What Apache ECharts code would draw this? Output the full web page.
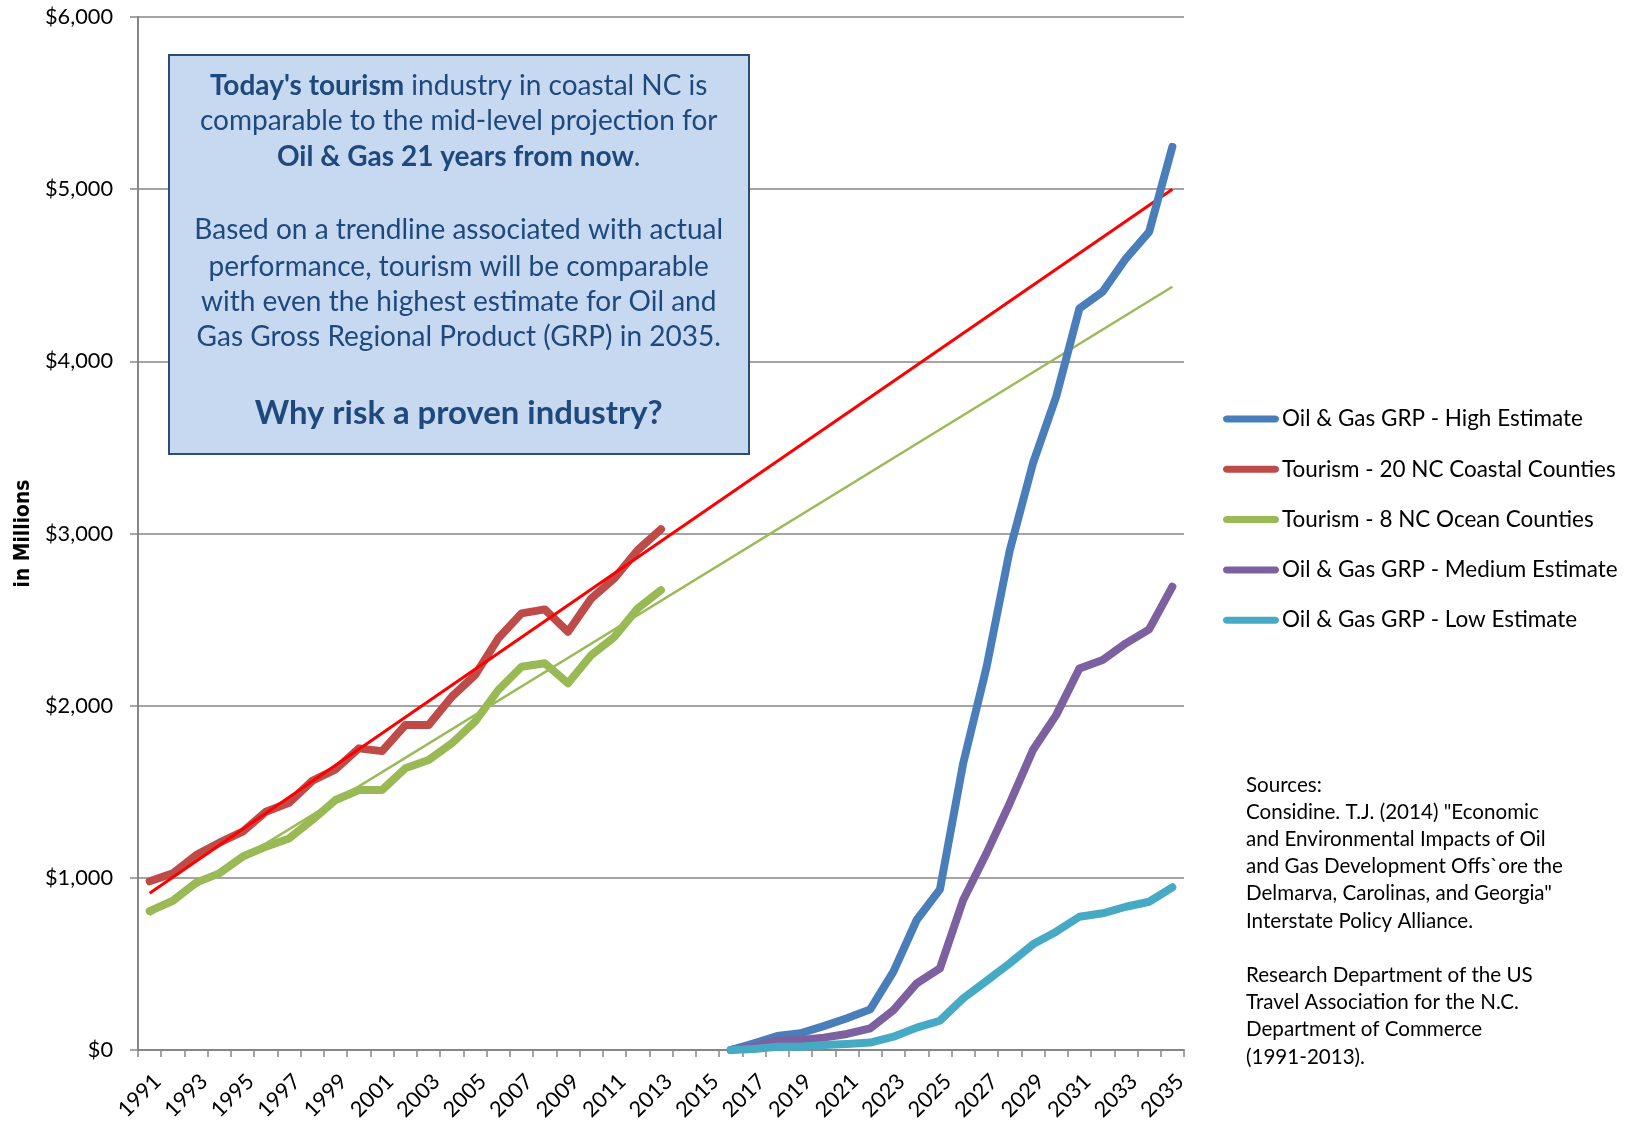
<!DOCTYPE html>
<html>
<head>
<meta charset="utf-8">
<script src="https://cdn.jsdelivr.net/npm/echarts@6/dist/echarts.min.js"></script>
<style>
html,body{margin:0;padding:0;background:#ffffff;}
#chart{width:1627px;height:1125px;}
</style>
</head>
<body>
<div id="chart"></div>
<script>
// ---------------- data ----------------
const years = ['1991','1992','1993','1994','1995','1996','1997','1998','1999','2000',
  '2001','2002','2003','2004','2005','2006','2007','2008','2009','2010',
  '2011','2012','2013','2014','2015','2016','2017','2018','2019','2020',
  '2021','2022','2023','2024','2025','2026','2027','2028','2029','2030',
  '2031','2032','2033','2034','2035'];

const tourismYears = ['1991','1992','1993','1994','1995','1996','1997','1998','1999','2000',
  '2001','2002','2003','2004','2005','2006','2007','2008','2009','2010','2011','2012','2013'];
const tourismCoastal = [980,1026,1132,1204,1268,1384,1436,1564,1630,1752,
  1736,1887,1887,2052,2178,2391,2536,2559,2429,2623,2740,2904,3025];
const tourismOcean = [807,867,972,1026,1123,1181,1229,1336,1452,1510,
  1510,1636,1684,1781,1907,2091,2226,2246,2130,2294,2400,2565,2671];

const oilYears = ['2016','2017','2018','2019','2020','2021','2022','2023','2024','2025',
  '2026','2027','2028','2029','2030','2031','2032','2033','2034','2035'];
const oilHigh = [0,39,81,97,139,184,236,455,755,933,1665,2220,2900,3407,3794,4307,4404,4597,4752,5246];
const oilMedium = [0,19,54,58,72,93,126,232,387,474,871,1142,1432,1742,1945,2216,2265,2362,2443,2691];
const oilLow = [0,6,19,19,29,35,43,77,130,170,300,401,503,614,687,774,794,832,861,945];

// trendline end points [year, value]
const coastalTrend = [['1991', 910], ['2035', 5000]];
const oceanTrend = [['1991', 785], ['2035', 4433]];

const yTicks = [0, 1000, 2000, 3000, 4000, 5000, 6000];

const seriesNames = {
  high: 'Oil & Gas GRP - High Estimate',
  coastal: 'Tourism - 20 NC Coastal Counties',
  ocean: 'Tourism - 8 NC Ocean Counties',
  medium: 'Oil & Gas GRP - Medium Estimate',
  low: 'Oil & Gas GRP - Low Estimate'
};
const legendOrder = [seriesNames.high, seriesNames.coastal, seriesNames.ocean, seriesNames.medium, seriesNames.low];

const boxLines = [
  [["b", "Today's tourism"], ["n", " industry in coastal NC is"]],
  [["n", "comparable to the mid-level projection for"]],
  [["b", "Oil & Gas 21 years from now"], ["n", "."]],
  [["n", "Based on a trendline associated with actual"]],
  [["n", "performance, tourism will be comparable"]],
  [["n", "with even the highest estimate for Oil and"]],
  [["n", "Gas Gross Regional Product (GRP) in 2035."]],
  [["big", "Why risk a proven industry?"]]
];
const boxLineY = [86, 121, 156.5, 230, 266.5, 302, 337, 413];

const sourcesLines = [
  'Sources:',
  'Considine. T.J. (2014) "Economic',
  'and Environmental Impacts of Oil',
  'and Gas Development Offs`ore the',
  'Delmarva, Carolinas, and Georgia"',
  'Interstate Policy Alliance.',
  '',
  'Research Department of the US',
  'Travel Association for the N.C.',
  'Department of Commerce',
  '(1991-2013).'
];

// ---------------- helpers ----------------
const FAMILY = 'Lato, "Open Sans", sans-serif';
const ctx = document.createElement('canvas').getContext('2d');
function fitSize(text, weight, family, target) {
  ctx.font = weight + ' 100px ' + family;
  return +(100 * target / ctx.measureText(text).width).toFixed(2);
}
const axisSize = fitSize('$6,000', 'normal', FAMILY, 68);
const boxSize = fitSize('Based on a trendline associated with actual', 'normal', FAMILY, 529);
const bigSize = fitSize('Why risk a proven industry?', 'bold', FAMILY, 408);
const legendSize = fitSize('Oil & Gas GRP - High Estimate', 'normal', FAMILY, 301);
const srcSize = fitSize('and Gas Development Offs`ore the', 'normal', FAMILY, 317);
const NAME_FAMILY = '"Liberation Sans Narrow", "DejaVu Sans Condensed", sans-serif';
const nameSize = fitSize('in Millions', 'bold', NAME_FAMILY, 108);

const pairs = (xs, vs) => xs.map((x, i) => [x, vs[i]]);

const BOX_TEXT = '#1F497D';
const boxGraphics = boxLines.map((parts, i) => ({
  type: 'text',
  x: 458.7,
  y: boxLineY[i],
  z: 110,
  style: {
    text: parts.map(p => '{' + p[0] + '|' + p[1] + '}').join(''),
    align: 'center',
    verticalAlign: 'middle',
    fontFamily: FAMILY,
    fontSize: boxSize,
    fill: BOX_TEXT,
    rich: {
      b: { fontFamily: FAMILY, fontSize: boxSize, fontWeight: 'bold', fill: BOX_TEXT, align: 'center' },
      n: { fontFamily: FAMILY, fontSize: boxSize, fontWeight: 'normal', fill: BOX_TEXT, align: 'center' },
      big: { fontFamily: FAMILY, fontSize: bigSize, fontWeight: 'bold', fill: BOX_TEXT, align: 'center' }
    }
  }
}));

const chart = echarts.init(document.getElementById('chart'), null, { renderer: 'canvas' });

const lineBase = (name, color, data) => ({
  name: name,
  type: 'line',
  data: data,
  color: color,
  symbol: 'none',
  showSymbol: false,
  smooth: false,
  lineStyle: { width: 8, color: color, cap: 'round', join: 'round' },
  emphasis: { disabled: true }
});

// capsule-shaped legend marker (56 x 7)
const CAPSULE = 'path://M3.5,0 L52.5,0 L54.25,0.47 L55.53,1.75 L56,3.5 L55.53,5.25 L54.25,6.53 L52.5,7 ' +
  'L3.5,7 L1.75,6.53 L0.47,5.25 L0,3.5 L0.47,1.75 L1.75,0.47 Z';

const option = {
  animation: false,
  backgroundColor: '#ffffff',
  textStyle: { fontFamily: FAMILY },
  grid: { left: 138, right: 443, top: 17, bottom: 75, containLabel: false },
  legend: {
    data: legendOrder,
    orient: 'vertical',
    left: 1223,
    top: 407,
    padding: 0,
    itemWidth: 56,
    itemHeight: 7,
    itemGap: 26.3,
    icon: CAPSULE,
    selectedMode: false,
    textStyle: { fontFamily: FAMILY, fontSize: legendSize, color: '#000', lineHeight: 24, padding: [0, 0, 0, -2] }
  },
  xAxis: {
    type: 'category',
    data: years,
    boundaryGap: true,
    axisLine: { show: true, lineStyle: { color: '#868686', width: 2 } },
    axisTick: { show: true, interval: 0, length: 7, alignWithLabel: false, lineStyle: { color: '#868686', width: 1.5 } },
    axisLabel: {
      interval: 1, rotate: 45, margin: 20, verticalAlign: 'top',
      fontFamily: FAMILY, fontSize: axisSize, color: '#000'
    },
    splitLine: { show: false }
  },
  yAxis: {
    type: 'value',
    min: yTicks[0],
    max: yTicks[yTicks.length - 1],
    interval: 1000,
    name: 'in Millions',
    nameLocation: 'middle',
    nameRotate: 90,
    nameGap: 104,
    nameTextStyle: { fontFamily: NAME_FAMILY, fontWeight: 'bold', fontSize: nameSize, color: '#000' },
    axisLine: { show: true, lineStyle: { color: '#868686', width: 2 } },
    axisTick: { show: true, length: 8, lineStyle: { color: '#868686', width: 1.5 } },
    axisLabel: {
      margin: 25,
      fontFamily: FAMILY, fontSize: axisSize, color: '#000',
      formatter: v => '$' + v.toLocaleString('en-US')
    },
    splitLine: { show: true, lineStyle: { color: '#868686', width: 1.5 } }
  },
  series: [
    Object.assign(lineBase(seriesNames.coastal, '#BE4B48', pairs(tourismYears, tourismCoastal)), { z: 2 }),
    Object.assign(lineBase(seriesNames.ocean, '#98B954', pairs(tourismYears, tourismOcean)), { z: 2 }),
    {
      name: 'coastalTrend', type: 'line', data: coastalTrend, symbol: 'none', z: 3,
      lineStyle: { width: 3, color: '#FF0000' }, emphasis: { disabled: true }, legendHoverLink: false
    },
    {
      name: 'oceanTrend', type: 'line', data: oceanTrend, symbol: 'none', z: 3,
      lineStyle: { width: 2.5, color: '#9BBB59' }, emphasis: { disabled: true }, legendHoverLink: false
    },
    Object.assign(lineBase(seriesNames.high, '#4A7EBB', pairs(oilYears, oilHigh)), { z: 4 }),
    Object.assign(lineBase(seriesNames.medium, '#7D60A0', pairs(oilYears, oilMedium)), { z: 4 }),
    Object.assign(lineBase(seriesNames.low, '#46AAC5', pairs(oilYears, oilLow)), { z: 4 })
  ],
  graphic: [
    {
      type: 'rect',
      z: 100,
      shape: { x: 169, y: 55, width: 580, height: 399 },
      style: { fill: '#C6D9F1', stroke: '#2C4D75', lineWidth: 2 }
    },
    ...boxGraphics,
    {
      type: 'text',
      x: 1246,
      y: 771.4,
      z: 100,
      style: {
        text: sourcesLines.join('\n'),
        fontFamily: FAMILY,
        fontSize: srcSize,
        lineHeight: 27.2,
        fill: '#000',
        align: 'left',
        verticalAlign: 'top'
      }
    }
  ]
};
chart.setOption(option);
</script>
</body>
</html>
